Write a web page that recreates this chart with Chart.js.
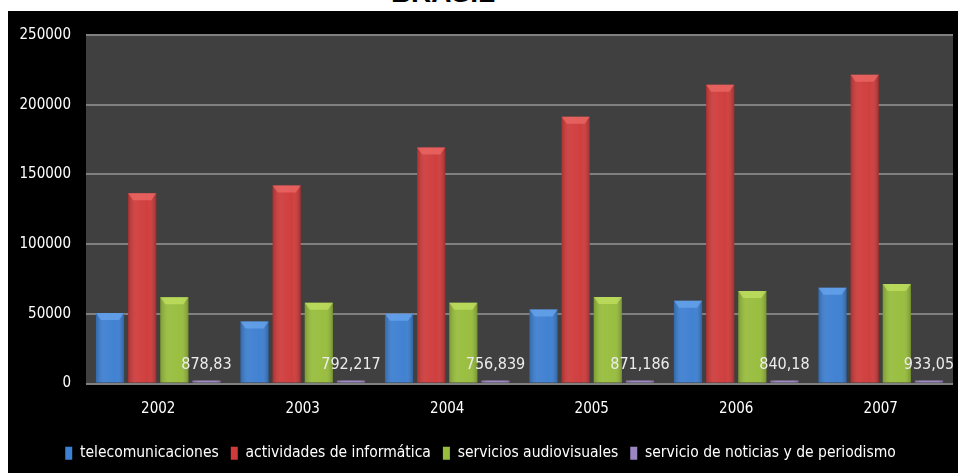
<!DOCTYPE html>
<html>
<head>
<meta charset="utf-8">
<script src="https://cdn.jsdelivr.net/npm/chart.js@4/dist/chart.umd.min.js"></script>
<style>
  html, body { margin: 0; padding: 0; background: #ffffff; width: 958px; height: 473px; overflow: hidden; }
  #title { position: absolute; left: 0; width: 886px; text-align: center; top: -23px; line-height: 28px; font: bold 28px "Liberation Sans", Arial, sans-serif; color: #000; }
  #wrap { position: absolute; left: 8px; top: 11px; width: 950px; height: 462px; background: #000; }
</style>
</head>
<body>
<div id="title">BRASIL</div>
<div id="wrap"><canvas id="c" width="950" height="462"></canvas></div>
<script>
const years = ['2002', '2003', '2004', '2005', '2006', '2007'];
const telecomunicaciones = [50500, 44500, 50000, 53000, 59300, 68600];
const informatica = [136500, 142100, 169300, 191400, 214300, 221400];
const audiovisuales = [61900, 57900, 57900, 62100, 66400, 71400];
const noticias = [878.83, 792.217, 756.839, 871.186, 840.18, 933.05];
const seriesNames = ['telecomunicaciones', 'actividades de informática', 'servicios audiovisuales', 'servicio de noticias y de periodismo'];
const yTicks = [0, 50000, 100000, 150000, 200000, 250000];

const FONT = '"Liberation Sans Narrow", "DejaVu Sans Condensed", "Open Sans", sans-serif';
const colors = ['#3d7fd1', '#cf3b3b', '#97bd3c', '#9b86c2'];
const lights = ['#6aa6ee', '#ec6a66', '#c2e062', '#c0aee0'];

const bgPlugin = {
  id: 'bg',
  beforeDraw(chart) {
    const { ctx, chartArea: a } = chart;
    ctx.save();
    ctx.fillStyle = '#404040';
    ctx.fillRect(a.left, a.top, a.right - a.left, a.bottom - a.top);
    ctx.restore();
  }
};

const bevelPlugin = {
  id: 'bevel',
  afterDatasetsDraw(chart) {
    const ctx = chart.ctx;
    chart.data.datasets.forEach((ds, di) => {
      const meta = chart.getDatasetMeta(di);
      meta.data.forEach(bar => {
        const w = bar.width, x0 = bar.x - w / 2, x1 = bar.x + w / 2;
        const top = Math.min(bar.y, bar.base), bot = Math.max(bar.y, bar.base);
        const h = bot - top;
        ctx.save();
        const g = ctx.createLinearGradient(x0, 0, x1, 0);
        g.addColorStop(0, 'rgba(0,0,0,0.18)');
        g.addColorStop(0.3, 'rgba(255,255,255,0.06)');
        g.addColorStop(0.7, 'rgba(255,255,255,0.02)');
        g.addColorStop(1, 'rgba(0,0,0,0.22)');
        ctx.fillStyle = g;
        ctx.fillRect(x0, top, w, h);
        if (h > 10) {
          const cap = 7;
          ctx.fillStyle = lights[di];
          ctx.globalAlpha = 0.75;
          ctx.beginPath();
          ctx.moveTo(x0, top);
          ctx.lineTo(x1, top);
          ctx.lineTo(x1 - 5, top + cap);
          ctx.lineTo(x0 + 5, top + cap);
          ctx.closePath();
          ctx.fill();
        }
        ctx.restore();
      });
    });
  }
};

const labelPlugin = {
  id: 'vlabels',
  afterDatasetsDraw(chart) {
    const ctx = chart.ctx;
    const meta = chart.getDatasetMeta(3);
    ctx.save();
    ctx.font = '16px ' + FONT;
    ctx.fillStyle = '#ececec';
    ctx.textAlign = 'center';
    ctx.textBaseline = 'middle';
    meta.data.forEach((bar, i) => {
      ctx.fillText(String(noticias[i]).replace('.', ','), bar.x, bar.y - 16);
    });
    ctx.restore();
  }
};

new Chart(document.getElementById('c'), {
  type: 'bar',
  data: {
    labels: years,
    datasets: [
      { label: seriesNames[0], data: telecomunicaciones, backgroundColor: colors[0] },
      { label: seriesNames[1], data: informatica, backgroundColor: colors[1] },
      { label: seriesNames[2], data: audiovisuales, backgroundColor: colors[2] },
      { label: seriesNames[3], data: noticias, backgroundColor: colors[3], minBarLength: 3 }
    ]
  },
  options: {
    responsive: false,
    animation: false,
    devicePixelRatio: 1,
    datasets: { bar: { categoryPercentage: 0.89, barPercentage: 0.875, borderWidth: 0 } },
    layout: { padding: { top: 21, right: 5, left: 0, bottom: 2 } },
    plugins: {
      title: { display: false },
      tooltip: { enabled: false },
      legend: {
        position: 'bottom',
        labels: {
          color: '#ffffff',
          font: { family: FONT, size: 15.5 },
          boxWidth: 7,
          boxHeight: 13,
          padding: 12
        }
      }
    },
    scales: {
      x: {
        grid: { display: false, drawTicks: false },
        border: { display: false },
        ticks: { color: '#ffffff', font: { family: FONT, size: 15 }, padding: 17 },
        afterFit(s) { s.height = 50; }
      },
      y: {
        min: 0,
        max: 250000,
        afterBuildTicks(s) { s.ticks = yTicks.map(v => ({ value: v })); },
        grid: { color: '#808080', lineWidth: 2, drawTicks: false },
        border: { display: true, color: '#808080', width: 0 },
        ticks: {
          color: '#ffffff',
          font: { family: FONT, size: 15 },
          padding: 15,
          callback: v => String(v)
        },
        afterFit(s) { s.width = 78; }
      }
    }
  },
  plugins: [bgPlugin, bevelPlugin, labelPlugin]
});
</script>
</body>
</html>
